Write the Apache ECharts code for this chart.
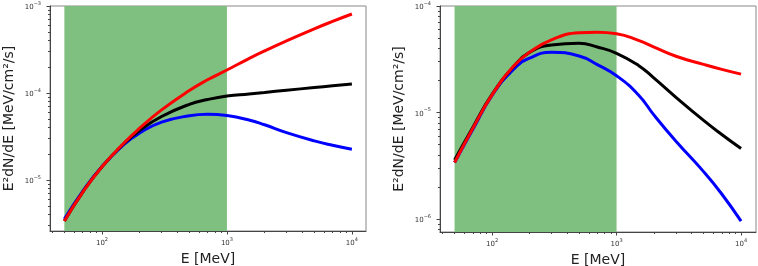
<!DOCTYPE html>
<html><head><meta charset="utf-8">
<script src="https://cdn.jsdelivr.net/npm/echarts@6/dist/echarts.min.js"></script>
<style>html,body{margin:0;padding:0;background:#fff}#c{width:758px;height:266px}</style>
</head><body><div id="c"></div>
<script>
// ---- data ----
const energyMeV = [50, 70, 100, 150, 200, 300, 500, 700, 1000, 1500, 2000, 3000, 5000, 7000, 10000];
const leftRed   = [3.39e-6, 7.22e-6, 1.422e-5, 2.667e-5, 3.936e-5, 6.397e-5, 1.067e-4, 1.419e-4, 1.837e-4, 2.489e-4, 3.048e-4, 3.981e-4, 5.47e-4, 6.65e-4, 8.09e-4];
const leftBlack = [3.39e-6, 7.22e-6, 1.422e-5, 2.63e-5, 3.715e-5, 5.37e-5, 7.41e-5, 8.41e-5, 9.23e-5, 9.77e-5, 1.016e-4, 1.076e-4, 1.156e-4, 1.211e-4, 1.271e-4];
const leftBlue  = [3.55e-6, 7.41e-6, 1.429e-5, 2.57e-5, 3.467e-5, 4.62e-5, 5.47e-5, 5.69e-5, 5.50e-5, 4.90e-5, 4.315e-5, 3.51e-5, 2.82e-5, 2.51e-5, 2.26e-5];
const rightRed   = [3.39e-6, 7.08e-6, 1.462e-5, 2.742e-5, 3.673e-5, 4.808e-5, 5.61e-5, 5.675e-5, 5.495e-5, 4.753e-5, 4.111e-5, 3.373e-5, 2.831e-5, 2.541e-5, 2.291e-5];
const rightBlack = [3.589e-6, 7.24e-6, 1.479e-5, 2.723e-5, 3.673e-5, 4.305e-5, 4.467e-5, 4.121e-5, 3.597e-5, 2.767e-5, 2.104e-5, 1.39e-5, 8.43e-6, 6.22e-6, 4.59e-6];
const rightBlue  = [3.39e-6, 6.92e-6, 1.445e-5, 2.57e-5, 3.236e-5, 3.673e-5, 3.388e-5, 2.818e-5, 2.213e-5, 1.462e-5, 9.44e-6, 5.37e-6, 2.786e-6, 1.718e-6, 9.55e-7];
const bandMeV = [50, 1000];
const xTicks = [100, 1000, 10000];
const leftYTicks = [1e-5, 1e-4, 1e-3];
const rightYTicks = [1e-6, 1e-5, 1e-4];
const xTitle = 'E [MeV]';
const yTitle = 'E\u00B2dN/dE [MeV/cm\u00B2/s]';

// ---- helpers ----
function minorTicks(lo, hi) {
  const out = [];
  for (let e = Math.floor(Math.log10(lo)); e <= Math.ceil(Math.log10(hi)); e++) {
    for (let k = 2; k <= 9; k++) {
      const v = k * Math.pow(10, e);
      if (v >= lo && v <= hi) out.push(v);
    }
  }
  return out;
}
function sci(v) {
  const e = Math.round(Math.log10(v));
  return '{b|10}{s|' + String(e).replace('-', '\u2212') + '}';
}
const FONT = 'DejaVu Sans';
const AX = '#444';
const rich = {
  b: {fontSize: 7, fontFamily: FONT, color: '#333', verticalAlign: 'bottom', lineHeight: 10},
  s: {fontSize: 5, fontFamily: FONT, color: '#333', verticalAlign: 'top', lineHeight: 10}
};
function pair(x) { return energyMeV.map((e, i) => [e, x[i]]); }

function majorX(grid, min, max) {
  return {type: 'log', logBase: 10, gridIndex: grid, min, max, position: 'bottom',
    name: xTitle, nameLocation: 'middle', nameGap: 18,
    nameTextStyle: {fontSize: 14, fontFamily: FONT, color: '#222'},
    axisLine: {show: true, onZero: false, lineStyle: {color: AX, width: 1}},
    axisTick: {show: true, inside: false, length: 3.5, customValues: xTicks, lineStyle: {color: AX}},
    axisLabel: {show: true, margin: 6, customValues: xTicks, formatter: sci, rich},
    splitLine: {show: false}, minorTick: {show: false}};
}
function minorX(grid, min, max) {
  return {type: 'log', logBase: 10, gridIndex: grid, min, max, position: 'bottom',
    axisLine: {show: false, onZero: false},
    axisTick: {show: true, length: 2, customValues: minorTicks(min, max), lineStyle: {color: AX}},
    axisLabel: {show: false}, splitLine: {show: false}};
}
function majorY(grid, min, max, ticks) {
  return {type: 'log', logBase: 10, gridIndex: grid, min, max, position: 'left',
    name: yTitle, nameLocation: 'middle', nameGap: 34, nameRotate: 90,
    nameTextStyle: {fontSize: 14, fontFamily: FONT, color: '#222'},
    axisLine: {show: true, onZero: false, lineStyle: {color: AX, width: 1}},
    axisTick: {show: true, length: 3.5, customValues: ticks, lineStyle: {color: AX}},
    axisLabel: {show: true, margin: 9, customValues: ticks, formatter: sci, rich},
    splitLine: {show: false}};
}
function minorY(grid, min, max) {
  return {type: 'log', logBase: 10, gridIndex: grid, min, max, position: 'left',
    axisLine: {show: false, onZero: false},
    axisTick: {show: true, length: 2, customValues: minorTicks(min, max), lineStyle: {color: AX}},
    axisLabel: {show: false}, splitLine: {show: false}};
}
function line(xi, yi, data, color, z) {
  return {type: 'line', xAxisIndex: xi, yAxisIndex: yi, data: pair(data), smooth: 0.5,
    showSymbol: false, symbol: 'none', z, lineStyle: {color, width: 3}, silent: true};
}
function band(xi, yi) {
  return {type: 'line', xAxisIndex: xi, yAxisIndex: yi, data: [], z: 1, silent: true,
    markArea: {silent: true, itemStyle: {color: '#7fbf7f', opacity: 1, borderWidth: 0},
      data: [[{xAxis: bandMeV[0]}, {xAxis: bandMeV[1]}]]}};
}

const L = {xmin: 38.37, xmax: 12970, ymin: 2.594e-6, ymax: 1e-3};
const R = {xmin: 38.19, xmax: 13183, ymin: 7.55e-7, ymax: 1e-4};

const chart = echarts.init(document.getElementById('c'), null, {renderer: 'canvas'});
chart.setOption({
  animation: false,
  backgroundColor: '#fff',
  grid: [
    {left: 50, top: 6, width: 316, height: 225, show: true, borderColor: '#888', borderWidth: 1, backgroundColor: 'transparent', containLabel: false, outerBoundsMode: 'none'},
    {left: 440, top: 6, width: 316, height: 226, show: true, borderColor: '#888', borderWidth: 1, backgroundColor: 'transparent', containLabel: false, outerBoundsMode: 'none'}
  ],
  xAxis: [majorX(0, L.xmin, L.xmax), minorX(0, L.xmin, L.xmax), majorX(1, R.xmin, R.xmax), minorX(1, R.xmin, R.xmax)],
  yAxis: [majorY(0, L.ymin, L.ymax, leftYTicks), minorY(0, L.ymin, L.ymax), majorY(1, R.ymin, R.ymax, rightYTicks), minorY(1, R.ymin, R.ymax)],
  series: [
    band(0, 0),
    line(0, 0, leftBlue, '#0000ff', 3),
    line(0, 0, leftBlack, '#000000', 4),
    line(0, 0, leftRed, '#ff0000', 5),
    band(2, 2),
    line(2, 2, rightBlue, '#0000ff', 3),
    line(2, 2, rightBlack, '#000000', 4),
    line(2, 2, rightRed, '#ff0000', 5)
  ]
});
</script></body></html>
